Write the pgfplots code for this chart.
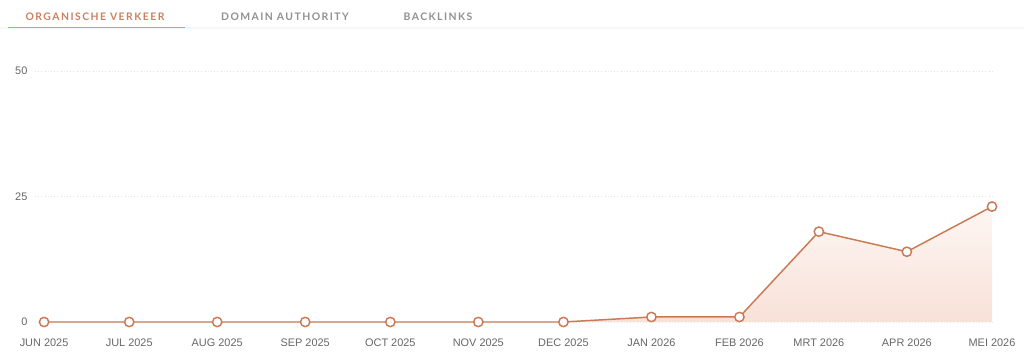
\documentclass[border=0pt]{standalone}
\usepackage{pgfplots}
\pgfplotsset{compat=1.18}
\usepackage{fontspec}
\setmainfont{Liberation Sans}
\newfontfamily\tabfont[LetterSpace=14]{Lato Bold}
\definecolor{lineC}{HTML}{C97A55}
\definecolor{tabC}{HTML}{CB8060}
\definecolor{tabG}{HTML}{909090}
\definecolor{tickC}{HTML}{666666}
\definecolor{fillTop}{HTML}{FDF6F3}
\definecolor{fillBot}{HTML}{F8E1D8}
\pgfplotstableread{
x y
0 0
30 0
61 0
92 0
122 0
153 0
183 0
214 1
245 1
273 18
304 14
334 23
}\traffic
\begin{document}
\begin{tikzpicture}[x=1pt,y=1pt]
\path[use as bounding box] (0,0) rectangle (768,270);
\fill[black!3] (0,248.5) rectangle (768,249.5);
\node[font=\tabfont\fontsize{7.8}{9}\selectfont, text=tabC] at (71.25,257.25) {ORGANISCHE VERKEER};
\node[font=\tabfont\fontsize{7.8}{9}\selectfont, text=tabG] at (213.75,257.25) {DOMAIN AUTHORITY};
\node[font=\tabfont\fontsize{7.8}{9}\selectfont, text=tabG] at (328.5,257.25) {BACKLINKS};
\draw[tabC!80, line width=0.8pt] (6,249.5) -- (138.75,249.5);
\begin{axis}[
  at={(26.25pt,28.5pt)}, anchor=south west,
  scale only axis, width=717.75pt, height=188.25pt,
  xmin=-3.2, xmax=334, ymin=0, ymax=50,
  clip=false,
  axis line style={draw=none},
  major tick length=0pt,
  ytick={0,25,50},
  ymajorgrids,
  grid style={black!10, dotted, line width=0.6pt},
  xtick={0,30,61,92,122,153,183,214,245,273,304,334},
  xticklabels={JUN 2025,JUL 2025,AUG 2025,SEP 2025,OCT 2025,NOV 2025,DEC 2025,JAN 2026,FEB 2026,MRT 2026,APR 2026,MEI 2026},
  ticklabel style={font=\fontsize{8.2}{10}\selectfont, text=tickC},
  xticklabel style={yshift=-9pt},
  yticklabel style={inner sep=0pt, xshift=-5.5pt},
  /pgf/number format/assume math mode=true,
]
\addplot[draw=none, top color=fillTop, bottom color=fillBot, forget plot] table[x=x,y=y] {\traffic} \closedcycle;
\addplot[lineC, line width=1.1pt, mark=*, mark size=3.5pt, mark options={fill=white, draw=lineC, line width=1.1pt}] table[x=x,y=y] {\traffic};
\end{axis}
\end{tikzpicture}
\end{document}
